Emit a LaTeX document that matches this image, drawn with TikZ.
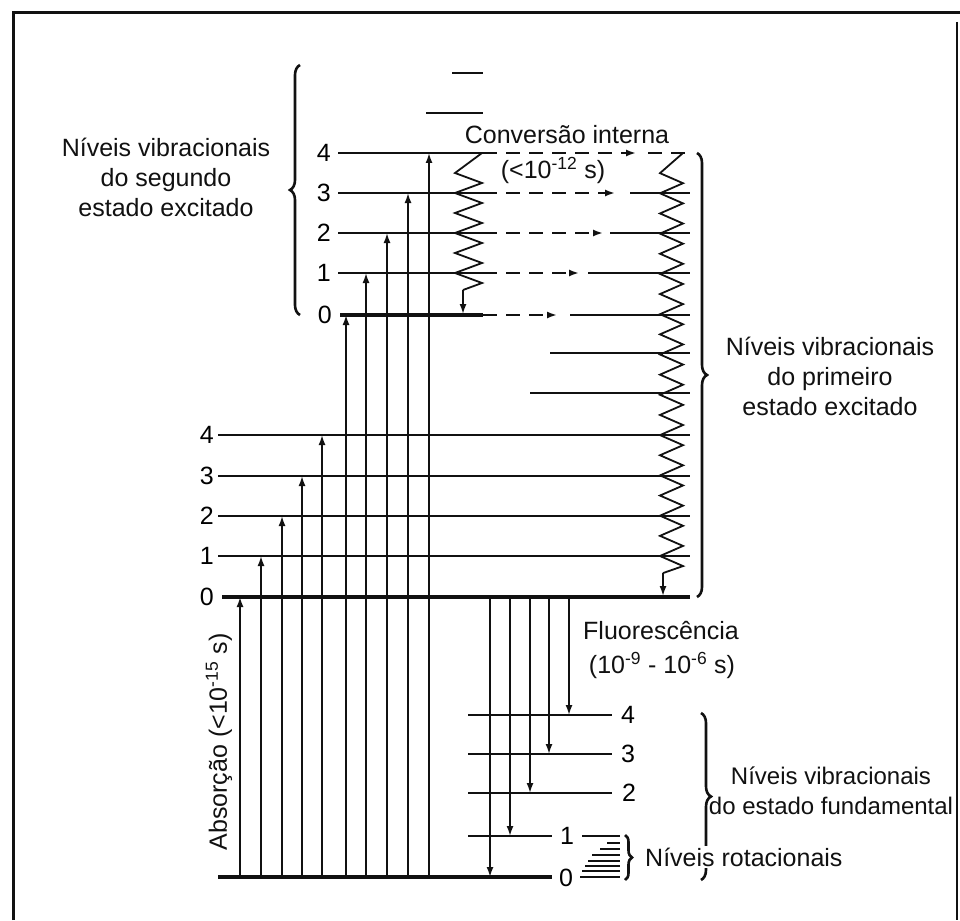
\documentclass[tikz,border=0pt]{standalone}
\usepackage{fontspec}
\setmainfont{Liberation Sans}
\usetikzlibrary{arrows.meta,decorations.pathreplacing}
\definecolor{colInk}{HTML}{111111}
\def\txtfont{\fontsize{25pt}{30pt}\selectfont}
\def\gndfont{\fontsize{24pt}{30pt}\selectfont}
\def\numfont{\fontsize{25pt}{28pt}\selectfont}
\tikzset{
  lvl/.style={draw=colInk, line width=1.8pt},
  lvlzero/.style={draw=colInk, line width=3.4pt},
  trans/.style={draw=colInk, line width=1.7pt, -{Latex[length=10pt,width=7pt]}},
  dashline/.style={draw=colInk, line width=1.8pt, dash pattern=on 14pt off 9pt},
  zigline/.style={draw=colInk, line width=1.8pt, line join=miter},
  bracket/.style={draw=colInk, line width=2.6pt, decorate, decoration={brace, amplitude=10pt}},
  lbl/.style={font=\txtfont, text=colInk, align=center, inner sep=0pt}
}
\newcommand{\lvlrow}[7][lvl]{%
  \draw[#1] (#2,#4) -- (#3,#4);%
  \node[anchor=east, font=\numfont, inner sep=0pt] (#6) at (#5,#4) {#7};}
\newcommand{\gndrow}[7][lvl]{%
  \draw[#1] (#2,#4) -- (#3,#4);%
  \node[anchor=west, font=\numfont, inner sep=0pt] (#6) at (#5,#4) {#7};}
\newcommand{\absarr}[2]{\draw[trans] (#1,877) -- (#1,#2);}
\newcommand{\fluarr}[2]{\draw[trans] (#1,597) -- (#1,#2);}
\newcommand{\convrow}[3]{%
  \draw[dashline, -{Latex[length=10pt,width=7pt]}] (483,#1) -- (#2,#1);%
  \draw[lvl] (#3,#1) -- (690,#1);}
\newcommand{\vibzig}[7]{%
  \draw[zigline] (#2,#3)
    \foreach \k in {1,...,#4} { -- (#1,{#3+2*\k*#5}) -- (#2,{#3+2*\k*#5+#5}) }
    -- (#6,{#3+2*#4*#5+#5+7});%
  \draw[trans] (#6,{#3+2*#4*#5+#5+7}) -- (#6,#7);}

\begin{document}
\begin{tikzpicture}[x=1pt, y=-1pt]
\useasboundingbox (0,0) rectangle (960,920);
\fill[white] (0,0) rectangle (960,920);

% frame
\draw[draw=colInk, line width=3pt] (13,920) -- (13,13) -- (960,13);
\draw[draw=colInk, line width=2pt] (957,22) -- (957,920);

% ===================== SECOND EXCITED STATE =====================
\draw[lvl] (452,73) -- (483,73);
\draw[lvl] (426,113) -- (483,113);
\lvlrow{338}{483}{153}{331}{sa4}{4}
\lvlrow{338}{483}{193}{331}{sa3}{3}
\lvlrow{338}{483}{233}{331}{sa2}{2}
\lvlrow{338}{483}{273}{331}{sa1}{1}
\lvlrow[lvlzero]{340}{483}{315}{332}{sa0}{0}

\draw[bracket] (300,315) -- (300,65);
\node[lbl] (satxt) at (166,177) {Níveis vibracionais\\do segundo\\estado excitado};

% internal conversion
\vibzig{455}{482}{153}{6}{10}{463}{314}
\draw[dashline, -{Latex[length=10pt,width=7pt]}] (483,153) -- (636,153);
\draw[dashline] (648,153) -- (690,153);
\convrow{193}{615}{630}
\convrow{233}{603}{610}
\convrow{273}{579}{588}
\convrow{315}{557}{570}
\node[lbl] (convtxt) at (567,135) {Conversão interna};
\node[lbl] (convtime) at (553,170) {(<10\textsuperscript{-12} s)};

% ===================== FIRST EXCITED STATE =====================
\draw[lvl] (550,353) -- (690,353);
\draw[lvl] (530,393) -- (690,393);
\lvlrow{218}{690}{435}{214}{sb4}{4}
\lvlrow{218}{690}{476}{214}{sb3}{3}
\lvlrow{218}{690}{516}{214}{sb2}{2}
\lvlrow{218}{690}{556}{214}{sb1}{1}
\lvlrow[lvlzero]{222}{690}{597}{214}{sb0}{0}

\vibzig{660}{683}{153}{20}{10.075}{663}{596}

\draw[bracket] (697,153) -- (697,597);
\node[lbl] (sbtxt) at (830,376) {Níveis vibracionais\\do primeiro\\estado excitado};

% ===================== ABSORPTION =====================
\draw[lvlzero] (218,877) -- (552,877);
\absarr{240}{597}
\absarr{261}{556}
\absarr{282}{516}
\absarr{302}{476}
\absarr{322}{435}
\absarr{346}{315}
\absarr{366}{273}
\absarr{387}{233}
\absarr{408}{193}
\absarr{429}{153}
\node[lbl, rotate=90] (abstxt) at (219,742) {Absorção (<10\textsuperscript{-15} s)};

% ===================== GROUND STATE =====================
\gndrow{468}{612}{715}{621}{g4}{4}
\gndrow{468}{612}{754}{621}{g3}{3}
\gndrow{468}{612}{793}{622}{g2}{2}
\gndrow{468}{552}{836}{560}{g1}{1}
\node[anchor=west, font=\numfont, inner sep=0pt] (g0) at (559,878) {0};

\fluarr{490}{877}
\fluarr{510}{836}
\fluarr{530}{793}
\fluarr{549}{754}
\fluarr{569}{715}
\node[lbl] (flutxt) at (661,631) {Fluorescência};
\node[lbl] (flutime) at (662,665) {(10\textsuperscript{-9} - 10\textsuperscript{-6} s)};

% rotational levels
\draw[lvl, line width=1.2pt] (582,836) -- (620,836);
\draw[lvl, line width=1.2pt] (607,843) -- (620,843);
\draw[lvl, line width=1.2pt] (600,849) -- (620,849);
\draw[lvl, line width=1.2pt] (592,855) -- (620,855);
\draw[lvl, line width=1.2pt] (588,861) -- (620,861);
\draw[lvl, line width=1.2pt] (585,866) -- (620,866);
\draw[lvl, line width=1.2pt] (582,871) -- (620,871);
\draw[lvl, line width=2.2pt] (580,877) -- (620,877);
\draw[bracket, decoration={brace, amplitude=7pt}] (625,835) -- (625,880);

\draw[bracket] (701,713) -- (701,880);
\node[lbl, font=\gndfont] (gtxt) at (831,791) {Níveis vibracionais\\do estado fundamental};
\node[lbl, anchor=west, fill=white, inner sep=2pt] (rottxt) at (643,857) {Níveis rotacionais};

\end{tikzpicture}
\end{document}
